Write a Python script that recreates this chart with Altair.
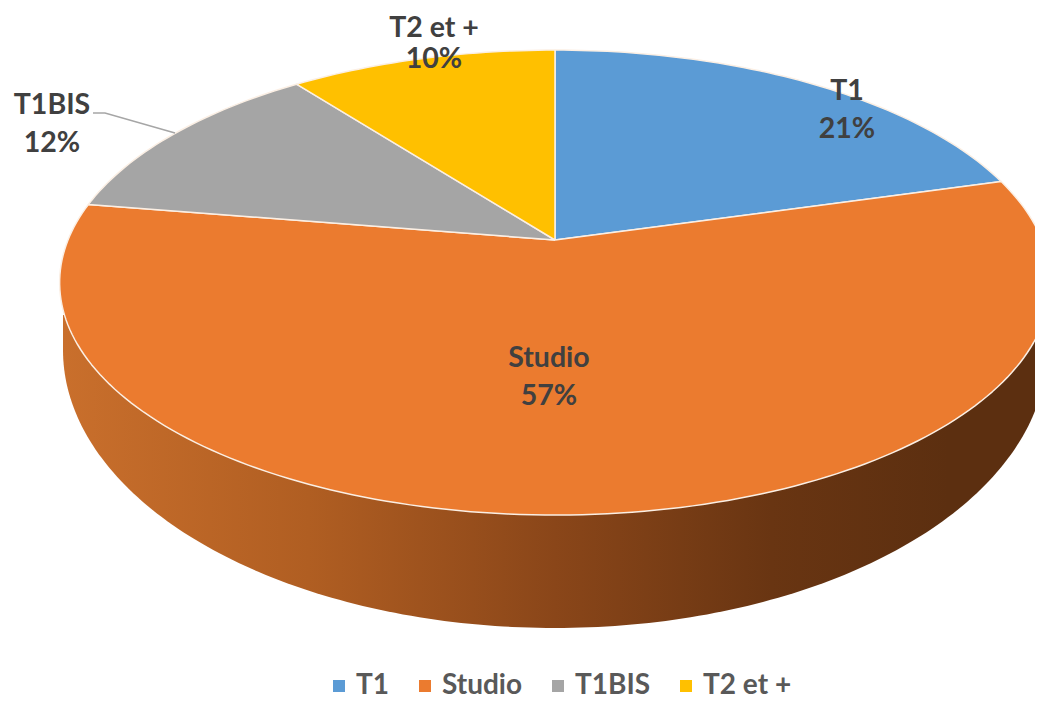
import numpy as np
import pandas as pd
import altair as alt

categories = ["T1", "Studio", "T1BIS", "T2 et +"]
shares = [20.6, 57.0, 12.0, 10.4]
colors = ["#5B9BD5", "#EB7B2F", "#A5A5A5", "#FFC000"]

# Projection of the tilted pie, in reference pixels
CX, CY, A, B, K = 555.0, 240.0, 487.0, 224.7, -0.183
WALL_Y, WALL_RX, WALL_CY, WALL_RY = 315.0, 492.0, 350.0, 278.0
FONT = "Lato"


def project(theta):
    u, v = np.sin(theta), -np.cos(theta)
    d = 1 + K * v
    return CX + A * u / d, CY + B * v / d


rows = []
cum = 0.0
for cat, share in zip(categories, shares):
    rows.append({"cat": cat, "x": CX, "y": CY, "i": 0})
    n = int(share * 3)
    for j in range(n + 1):
        th = 2 * np.pi * (cum + share * j / n) / 100.0
        x, y = project(th)
        rows.append({"cat": cat, "x": float(x), "y": float(y), "i": j + 1})
    rows.append({"cat": cat, "x": CX, "y": CY, "i": n + 2})
    cum += share
slices = pd.DataFrame(rows)

ts = np.linspace(0, np.pi, 181)
wall = pd.DataFrame({
    "x": CX - WALL_RX * np.cos(ts),
    "y": WALL_CY + WALL_RY * np.sin(ts),
    "y2": WALL_Y,
})

label_x = [847, 549, 52, 434]
label_y = [91, 358, 105, 28]
label_line = [38, 38, 38, 31]
labels = pd.DataFrame({
    "text": [f"{c}\n{round(s)}%" for c, s in zip(categories, shares)],
    "x": label_x,
    "y": label_y,
    "lh": label_line,
})
leader = pd.DataFrame({"x": [93, 105, 175], "y": [113, 113, 133], "i": [0, 1, 2]})

xs = alt.Scale(domain=[8, 1035], nice=False, zero=False)
ys = alt.Scale(domain=[701, 8], nice=False, zero=False)
X = alt.X("x:Q", scale=xs, axis=None)
Y = alt.Y("y:Q", scale=ys, axis=None)

wall_layer = alt.Chart(wall).mark_area(
    clip=True,
    orient="vertical",
    color=alt.Gradient(
        gradient="linear", x1=0, x2=1, y1=0, y2=0,
        stops=[
            alt.GradientStop(offset=0.0, color="#C96F2C"),
            alt.GradientStop(offset=0.25, color="#B05E22"),
            alt.GradientStop(offset=0.5, color="#8A4619"),
            alt.GradientStop(offset=0.72, color="#693512"),
            alt.GradientStop(offset=0.9, color="#5C2F10"),
            alt.GradientStop(offset=1.0, color="#5C2F10"),
        ],
    ),
).encode(x=X, y=Y, y2=alt.Y2("y2:Q"))

slice_layer = alt.Chart(slices).mark_line(
    clip=True, stroke="#FBEFE4", strokeWidth=1.5, strokeJoin="round"
).encode(
    x=X,
    y=Y,
    order=alt.Order("i:Q"),
    fill=alt.Fill(
        "cat:N",
        scale=alt.Scale(domain=categories, range=colors),
        sort=categories,
        legend=alt.Legend(
            title=None,
            orient="none",
            legendX=317,
            legendY=664,
            direction="horizontal",
            columns=4,
            symbolType="square",
            symbolSize=144,
            symbolStrokeWidth=0,
            labelFont=FONT,
            labelFontWeight="bold",
            labelFontSize=28,
            labelColor="#595959",
            columnPadding=21,
            labelOffset=3,
            padding=0,
        ),
    ),
)

leader_layer = alt.Chart(leader).mark_line(color="#A6A6A6", strokeWidth=1.5).encode(
    x=X, y=Y, order=alt.Order("i:Q")
)


def text_layer(line_height):
    return alt.Chart(labels[labels["lh"] == line_height]).mark_text(
        font=FONT, fontWeight="bold", fontSize=28.5, color="#404040",
        lineBreak="\n", lineHeight=line_height, align="center", baseline="middle",
    ).encode(x=X, y=Y, text="text:N")


chart = alt.layer(
    wall_layer, slice_layer, leader_layer, text_layer(38), text_layer(31)
).properties(
    width=1027,
    height=693,
    padding=0,
    autosize=alt.AutoSizeParams(type="none"),
    background="white",
).configure_view(stroke=None)

chart.save("out.html", embed_options={"renderer": "svg", "actions": False})
